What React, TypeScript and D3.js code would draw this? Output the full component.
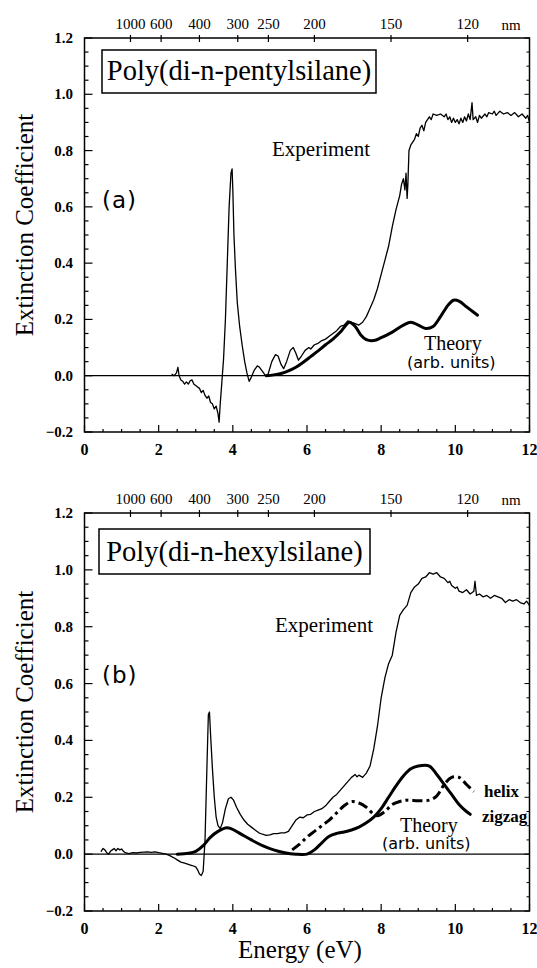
import React from "react";
import * as d3 from "d3";

// ---------- data ----------
const X_TICKS = [0, 2, 4, 6, 8, 10, 12];
const Y_TICKS = [-0.2, 0, 0.2, 0.4, 0.6, 0.8, 1.0, 1.2];
const NM_TICKS = [1000, 600, 400, 300, 250, 200, 150, 120];

const expA: [number, number][] = [
  [2.36, 0.005], [2.42, 0.0], [2.48, 0.01], [2.52, 0.03], [2.55, 0.0], [2.6, -0.015], [2.65, -0.02],
  [2.7, -0.03], [2.75, -0.022], [2.8, -0.03], [2.85, -0.018], [2.9, -0.015], [2.95, -0.03], [3.0, -0.035],
  [3.05, -0.04], [3.1, -0.045], [3.15, -0.06], [3.2, -0.052], [3.25, -0.07], [3.3, -0.08], [3.35, -0.072],
  [3.4, -0.095], [3.45, -0.1], [3.5, -0.118], [3.55, -0.108], [3.6, -0.135], [3.63, -0.165], [3.66, -0.1],
  [3.7, -0.03], [3.75, 0.06], [3.8, 0.2], [3.85, 0.4], [3.9, 0.6], [3.95, 0.72], [3.98, 0.735], [4.0, 0.66],
  [4.03, 0.5], [4.07, 0.38], [4.12, 0.26], [4.18, 0.18], [4.25, 0.11], [4.32, 0.05], [4.38, 0.01],
  [4.44, -0.02], [4.5, -0.005], [4.58, 0.02], [4.66, 0.035], [4.72, 0.03], [4.8, 0.015], [4.88, 0.0],
  [4.95, 0.005], [5.05, 0.05], [5.15, 0.075], [5.22, 0.07], [5.3, 0.04], [5.37, 0.025], [5.45, 0.05],
  [5.55, 0.09], [5.63, 0.1], [5.7, 0.08], [5.77, 0.055], [5.85, 0.07], [5.95, 0.09], [6.05, 0.1],
  [6.1, 0.095], [6.2, 0.11], [6.3, 0.115], [6.4, 0.125], [6.5, 0.13], [6.6, 0.14], [6.7, 0.15],
  [6.8, 0.16], [6.9, 0.175], [7.0, 0.18], [7.1, 0.195], [7.2, 0.19], [7.3, 0.185], [7.4, 0.18],
  [7.5, 0.19], [7.6, 0.21], [7.7, 0.24], [7.8, 0.27], [7.9, 0.31], [8.0, 0.36], [8.1, 0.41], [8.2, 0.46],
  [8.3, 0.53], [8.4, 0.59], [8.5, 0.64], [8.55, 0.68], [8.6, 0.7], [8.64, 0.66], [8.67, 0.72], [8.7, 0.63],
  [8.72, 0.68], [8.75, 0.8], [8.8, 0.82], [8.85, 0.83], [8.9, 0.84], [8.95, 0.86], [9.0, 0.85],
  [9.05, 0.88], [9.1, 0.89], [9.15, 0.87], [9.2, 0.9], [9.25, 0.91], [9.3, 0.92], [9.35, 0.91],
  [9.4, 0.93], [9.5, 0.925], [9.6, 0.93], [9.7, 0.92], [9.75, 0.93], [9.8, 0.91], [9.85, 0.92],
  [9.9, 0.9], [9.95, 0.915], [10.0, 0.9], [10.05, 0.91], [10.1, 0.895], [10.15, 0.915], [10.2, 0.9],
  [10.25, 0.92], [10.3, 0.905], [10.35, 0.93], [10.4, 0.91], [10.45, 0.97], [10.48, 0.91], [10.55, 0.92],
  [10.6, 0.9], [10.65, 0.925], [10.7, 0.915], [10.8, 0.93], [10.85, 0.92], [10.9, 0.935], [11.0, 0.93],
  [11.05, 0.94], [11.1, 0.925], [11.2, 0.94], [11.3, 0.93], [11.4, 0.935], [11.5, 0.925], [11.6, 0.935],
  [11.7, 0.92], [11.8, 0.93], [11.9, 0.915], [11.95, 0.925], [12.0, 0.9],
];

const theoryA: [number, number][] = [
  [4.9, 0.0], [5.1, 0.003], [5.3, 0.008], [5.5, 0.017], [5.7, 0.03], [5.9, 0.048], [6.1, 0.068],
  [6.3, 0.088], [6.5, 0.11], [6.7, 0.13], [6.9, 0.155], [7.05, 0.18], [7.15, 0.19], [7.3, 0.175],
  [7.45, 0.145], [7.6, 0.128], [7.8, 0.125], [8.0, 0.135], [8.3, 0.155], [8.6, 0.18], [8.8, 0.19],
  [9.0, 0.18], [9.2, 0.168], [9.4, 0.175], [9.6, 0.21], [9.8, 0.25], [9.95, 0.268], [10.1, 0.265],
  [10.3, 0.245], [10.45, 0.23], [10.6, 0.215],
];

const expB: [number, number][] = [
  [0.45, 0.01], [0.5, 0.02], [0.55, 0.015], [0.6, 0.005], [0.65, 0.0], [0.7, 0.01], [0.75, 0.015],
  [0.8, 0.02], [0.85, 0.012], [0.9, 0.02], [0.95, 0.015], [1.0, 0.018], [1.05, 0.01], [1.1, 0.005],
  [1.2, 0.002], [1.3, 0.005], [1.4, 0.004], [1.5, 0.006], [1.6, 0.007], [1.7, 0.008], [1.8, 0.006],
  [1.9, 0.008], [2.0, 0.005], [2.1, 0.003], [2.2, 0.0], [2.3, -0.005], [2.4, -0.012], [2.5, -0.02],
  [2.6, -0.028], [2.7, -0.032], [2.8, -0.036], [2.9, -0.04], [3.0, -0.045], [3.05, -0.055], [3.1, -0.07],
  [3.15, -0.075], [3.2, -0.06], [3.25, 0.05], [3.3, 0.3], [3.34, 0.49], [3.37, 0.5], [3.4, 0.42],
  [3.45, 0.3], [3.5, 0.2], [3.55, 0.13], [3.6, 0.1], [3.66, 0.09], [3.72, 0.11], [3.8, 0.16],
  [3.88, 0.195], [3.95, 0.2], [4.02, 0.19], [4.1, 0.165], [4.2, 0.14], [4.3, 0.12], [4.4, 0.105],
  [4.5, 0.095], [4.6, 0.085], [4.7, 0.075], [4.8, 0.07], [4.9, 0.066], [5.0, 0.068], [5.1, 0.072],
  [5.2, 0.072], [5.3, 0.075], [5.4, 0.075], [5.5, 0.08], [5.6, 0.1], [5.7, 0.12], [5.8, 0.13],
  [5.9, 0.128], [6.0, 0.138], [6.1, 0.14], [6.2, 0.15], [6.3, 0.155], [6.4, 0.16], [6.5, 0.17],
  [6.6, 0.185], [6.7, 0.2], [6.8, 0.21], [6.9, 0.225], [7.0, 0.24], [7.1, 0.255], [7.2, 0.27],
  [7.3, 0.28], [7.35, 0.272], [7.4, 0.278], [7.5, 0.27], [7.6, 0.285], [7.7, 0.31], [7.8, 0.37],
  [7.9, 0.45], [8.0, 0.55], [8.1, 0.62], [8.2, 0.67], [8.3, 0.7], [8.4, 0.78], [8.5, 0.84], [8.6, 0.86],
  [8.7, 0.875], [8.8, 0.92], [8.9, 0.94], [9.0, 0.95], [9.1, 0.97], [9.2, 0.975], [9.3, 0.99],
  [9.4, 0.985], [9.5, 0.99], [9.6, 0.975], [9.7, 0.97], [9.8, 0.955], [9.85, 0.96], [9.9, 0.945],
  [10.0, 0.935], [10.05, 0.94], [10.1, 0.925], [10.2, 0.92], [10.3, 0.93], [10.4, 0.915], [10.5, 0.925],
  [10.53, 0.96], [10.57, 0.91], [10.65, 0.915], [10.75, 0.905], [10.85, 0.91], [10.95, 0.9],
  [11.05, 0.91], [11.15, 0.905], [11.25, 0.9], [11.35, 0.885], [11.45, 0.895], [11.55, 0.89],
  [11.65, 0.895], [11.75, 0.885], [11.85, 0.88], [11.92, 0.89], [12.0, 0.875],
];

const zigzagB: [number, number][] = [
  [2.5, 0.0], [2.8, 0.003], [3.0, 0.01], [3.2, 0.03], [3.4, 0.06], [3.6, 0.08], [3.8, 0.092],
  [3.95, 0.09], [4.2, 0.072], [4.5, 0.05], [4.8, 0.03], [5.1, 0.015], [5.4, 0.005], [5.7, 0.0],
  [6.0, 0.0], [6.2, 0.015], [6.4, 0.04], [6.6, 0.063], [6.8, 0.073], [7.0, 0.078], [7.2, 0.085],
  [7.4, 0.095], [7.6, 0.11], [7.8, 0.13], [8.0, 0.16], [8.2, 0.2], [8.4, 0.24], [8.6, 0.275],
  [8.8, 0.3], [9.0, 0.31], [9.3, 0.31], [9.5, 0.28], [9.7, 0.245], [9.9, 0.21], [10.1, 0.175],
  [10.3, 0.15], [10.4, 0.14],
];

const helixB: [number, number][] = [
  [5.6, 0.015], [5.8, 0.035], [6.0, 0.06], [6.2, 0.08], [6.4, 0.1], [6.6, 0.12], [6.8, 0.145],
  [7.0, 0.17], [7.2, 0.185], [7.4, 0.18], [7.6, 0.165], [7.8, 0.14], [7.9, 0.135], [8.1, 0.15],
  [8.3, 0.175], [8.5, 0.185], [8.7, 0.19], [9.0, 0.188], [9.3, 0.19], [9.5, 0.205], [9.7, 0.245],
  [9.9, 0.27], [10.1, 0.27], [10.3, 0.245], [10.5, 0.22],
];

// ---------- layout ----------
const W = 537;
const H = 968;
const X0 = 84.5;
const X1 = 529.5;
const SERIF = "'Liberation Serif', 'Times New Roman', serif";
const SANS = "'DejaVu Sans', sans-serif";

const x = d3.scaleLinear().domain([0, 12]).range([X0, X1]);
const fmt = d3.format(".1f");

type PanelProps = {
  top: number;
  bottom: number;
  title: string;
  tag: string;
  titleBox: [number, number, number, number];
  series: { data: [number, number][]; width: number; dash?: string; smooth?: boolean }[];
  texts: { t: string; x: number; y: number; size: number; font: string; weight?: string }[];
};

function Panel({ top, bottom, title, tag, titleBox, series, texts }: PanelProps) {
  const y = d3.scaleLinear().domain([-0.2, 1.2]).range([bottom, top]);
  const minorY = d3.range(-0.2, 1.2001, 0.05);
  const minorX = d3.range(0, 12.001, 0.5);
  const [bx, by, bw, bh] = titleBox;
  return (
    <g>
      <rect x={X0} y={top} width={X1 - X0} height={bottom - top} fill="none" stroke="#000" strokeWidth={1.5} />
      <line x1={X0} x2={X1} y1={y(0)} y2={y(0)} stroke="#000" strokeWidth={1.3} />
      {minorY.map((v, i) => {
        const major = Math.abs(Math.round(v / 0.2) * 0.2 - v) < 1e-6;
        const len = major ? 8 : 4;
        return (
          <g key={"yt" + i}>
            <line x1={X0} x2={X0 + len} y1={y(v)} y2={y(v)} stroke="#000" strokeWidth={1.2} />
            <line x1={X1} x2={X1 - (major ? 5 : 3)} y1={y(v)} y2={y(v)} stroke="#000" strokeWidth={1} />
          </g>
        );
      })}
      {Y_TICKS.map((v) => (
        <text key={"yl" + v} x={73} y={y(v) + 5} textAnchor="end" fontFamily={SERIF} fontWeight="bold" fontSize={15}>
          {fmt(v)}
        </text>
      ))}
      {minorX.map((v, i) => {
        const major = Math.abs(v % 2) < 1e-6;
        return (
          <line key={"xt" + i} x1={x(v)} x2={x(v)} y1={bottom} y2={bottom - (major ? 7 : 3)} stroke="#000" strokeWidth={1.2} />
        );
      })}
      {X_TICKS.map((v) => (
        <text key={"xl" + v} x={x(v)} y={bottom + 23} textAnchor="middle" fontFamily={SERIF} fontWeight="bold" fontSize={16}>
          {v}
        </text>
      ))}
      {NM_TICKS.map((nm) => (
        <g key={"nm" + nm}>
          <line x1={x(1239.84 / nm)} x2={x(1239.84 / nm)} y1={top - 3} y2={top + 4} stroke="#000" strokeWidth={1.2} />
          <text x={x(1239.84 / nm)} y={top - 9} textAnchor="middle" fontFamily={SERIF} fontSize={15}>
            {nm}
          </text>
        </g>
      ))}
      <text x={511} y={top - 8} textAnchor="middle" fontFamily={SERIF} fontSize={15}>
        nm
      </text>
      <text
        transform={`translate(33,${(top + bottom) / 2 - 10}) rotate(-90)`}
        textAnchor="middle"
        fontFamily={SERIF}
        fontSize={25}
      >
        Extinction Coefficient
      </text>
      <rect x={bx} y={by} width={bw} height={bh} fill="#fff" stroke="#000" strokeWidth={1.5} />
      <text x={bx + bw / 2} y={by + bh - 13} textAnchor="middle" fontFamily={SERIF} fontSize={28.5}>
        {title}
      </text>
      <text x={102} y={top + 170} fontFamily={SANS} fontSize={23} letterSpacing={1}>
        {tag}
      </text>
      {series.map((s, i) => {
        const gen = d3
          .line<[number, number]>()
          .x((d) => x(d[0]))
          .y((d) => y(d[1]))
          .curve(s.smooth ? d3.curveCatmullRom : d3.curveLinear);
        return (
          <path
            key={"s" + i}
            d={gen(s.data) || ""}
            fill="none"
            stroke="#000"
            strokeWidth={s.width}
            strokeDasharray={s.dash}
            strokeLinejoin="round"
            strokeLinecap={s.dash ? "butt" : "round"}
          />
        );
      })}
      {texts.map((t, i) => (
        <text key={"tx" + i} x={t.x} y={t.y} fontFamily={t.font} fontSize={t.size} fontWeight={t.weight || "normal"}>
          {t.t}
        </text>
      ))}
    </g>
  );
}

export default function App() {
  return (
    <svg
      width={W}
      height={H}
      viewBox={`0 0 ${W} ${H}`}
      style={{ position: "absolute", left: 0, top: 0, background: "#fff" }}
    >
      <rect width={W} height={H} fill="#fff" />
      <Panel
        top={38}
        bottom={432}
        title="Poly(di-n-pentylsilane)"
        tag="(a)"
        titleBox={[102, 50, 274, 43]}
        series={[
          { data: expA, width: 1.3 },
          { data: theoryA, width: 3, smooth: true },
        ]}
        texts={[
          { t: "Experiment", x: 272, y: 156, size: 21, font: SERIF },
          { t: "Theory", x: 424, y: 350, size: 20, font: SERIF },
          { t: "(arb. units)", x: 407, y: 368, size: 16, font: SANS },
        ]}
      />
      <Panel
        top={513}
        bottom={911}
        title="Poly(di-n-hexylsilane)"
        tag="(b)"
        titleBox={[99, 529, 271, 45]}
        series={[
          { data: expB, width: 1.3 },
          { data: zigzagB, width: 3, smooth: true },
          { data: helixB, width: 3, smooth: true, dash: "10,4,3,4" },
        ]}
        texts={[
          { t: "Experiment", x: 275, y: 632, size: 21, font: SERIF },
          { t: "Theory", x: 400, y: 832, size: 20, font: SERIF },
          { t: "(arb. units)", x: 382, y: 849, size: 16, font: SANS },
          { t: "helix", x: 484, y: 797, size: 17, font: SERIF, weight: "bold" },
          { t: "zigzag", x: 482, y: 822, size: 17, font: SERIF, weight: "bold" },
        ]}
      />
      <text x={300} y={958} textAnchor="middle" fontFamily={SERIF} fontSize={25}>
        Energy (eV)
      </text>
    </svg>
  );
}
